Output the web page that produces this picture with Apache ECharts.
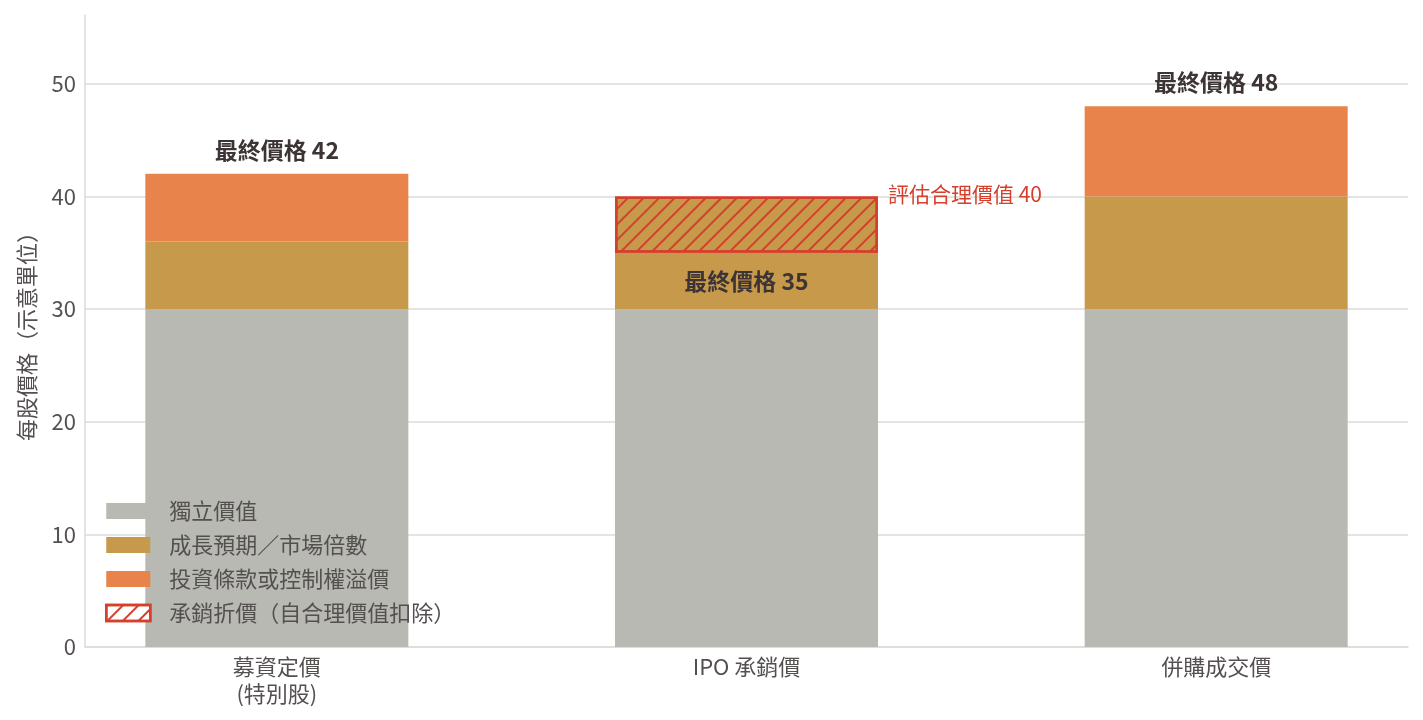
<!DOCTYPE html>
<html><head><meta charset="utf-8">
<script src="https://cdn.jsdelivr.net/npm/echarts@6/dist/echarts.min.js"></script>
<style>html,body{margin:0;padding:0;background:#fff}#c{width:1423px;height:720px}</style>
</head><body><div id="c"></div>
<script>
const categories = ['募資定價\n(特別股)', 'IPO 承銷價', '併購成交價'];
const seriesNames = ['獨立價值', '成長預期／市場倍數', '投資條款或控制權溢價', '承銷折價（自合理價值扣除）'];
const standalone = [30, 30, 30];
const growth = [6, 5, 10];
const premium = [6, 0, 8];
const discount = [0, 5, 0];
const yTicks = [0, 10, 20, 30, 40, 50];

const FONT = "'Noto Sans CJK TC', 'Noto Sans', sans-serif";
const C_GRAY = '#b7b9b2', C_TAN = '#c7994b', C_ORANGE = '#e8844b', C_RED = '#d4402c';
const TXT = '#555050', DARK = '#3d3535', GRIDC = '#dedbd6';
const FS = 22;
const finals = standalone.map((v, i) => v + growth[i] + premium[i]);
const fair = finals.map((v, i) => v + discount[i]);
const decal = {symbol: 'rect', symbolSize: 1, dashArrayX: [1, 0], dashArrayY: [2, 9], rotation: -Math.PI / 4, color: C_RED};
const boldLabel = {show: true, fontFamily: FONT, fontSize: 23, fontWeight: 'bold', color: DARK};
const YMAX = 56.1;

const chart = echarts.init(document.getElementById('c'));
chart.setOption({
  animation: false,
  textStyle: {fontFamily: FONT},
  grid: [
    {left: 85, right: 15, top: 15, bottom: 73},
    {left: 42, width: 1409, top: 15, bottom: 73, outerBoundsMode: 'none', containLabel: false}
  ],
  legend: {
    orient: 'vertical', left: 105, top: 500, padding: 0, itemWidth: 44, itemHeight: 16, itemGap: 12,
    icon: 'rect',
    textStyle: {fontFamily: FONT, fontSize: FS, color: TXT, padding: [0, 0, 0, 14], lineHeight: 22},
    data: [
      {name: seriesNames[0]}, {name: seriesNames[1]}, {name: seriesNames[2]},
      {name: seriesNames[3], itemStyle: {color: '#fff', borderColor: C_RED, borderWidth: 2.5, decal: decal}}
    ]
  },
  xAxis: [
    {type: 'category', gridIndex: 0, data: ['', '', ''],
      axisLine: {show: true, lineStyle: {color: GRIDC, width: 1.5}},
      axisTick: {show: false}, axisLabel: {show: false}, splitLine: {show: false}},
    {type: 'category', gridIndex: 1, data: categories,
      axisLine: {show: false}, axisTick: {show: false}, splitLine: {show: false},
      axisLabel: {fontSize: FS, color: TXT, margin: 6, lineHeight: 27, fontFamily: FONT, interval: 0}}
  ],
  yAxis: [
    {type: 'value', gridIndex: 0, min: 0, max: YMAX, interval: 10,
      name: '每股價格（示意單位）', nameLocation: 'middle', nameGap: 47,
      nameTextStyle: {fontSize: FS, color: TXT, fontFamily: FONT},
      axisLine: {show: true, onZero: false, lineStyle: {color: GRIDC, width: 1.5}},
      axisTick: {show: false},
      axisLabel: {fontSize: FS, color: TXT, margin: 9, showMaxLabel: false, fontFamily: FONT,
        formatter: v => yTicks.includes(v) ? String(v) : ''},
      splitLine: {showMaxLine: false, lineStyle: {color: GRIDC, width: 1.5}}},
    {type: 'value', gridIndex: 1, min: 0, max: YMAX, show: false, splitLine: {show: false}}
  ],
  series: [
    {name: seriesNames[0], type: 'bar', stack: 's', xAxisIndex: 1, yAxisIndex: 1, barWidth: 263,
      itemStyle: {color: C_GRAY}, data: standalone},
    {name: seriesNames[1], type: 'bar', stack: 's', xAxisIndex: 1, yAxisIndex: 1, barWidth: 263,
      itemStyle: {color: C_TAN},
      data: growth.map((v, i) => ({value: v,
        label: premium[i] === 0 ? Object.assign({}, boldLabel, {position: 'inside', formatter: '最終價格 ' + finals[i]}) : {show: false}}))},
    {name: seriesNames[2], type: 'bar', stack: 's', xAxisIndex: 1, yAxisIndex: 1, barWidth: 263,
      itemStyle: {color: C_ORANGE},
      data: premium.map((v, i) => v > 0 ? {value: v,
        label: Object.assign({}, boldLabel, {position: 'top', distance: 12, formatter: '最終價格 ' + finals[i]})} : '-')},
    {name: seriesNames[3], type: 'bar', stack: 's', xAxisIndex: 1, yAxisIndex: 1, barWidth: 263,
      itemStyle: {color: C_TAN, borderColor: C_RED, borderWidth: 2.5, decal: decal},
      data: discount.map((v, i) => v > 0 ? {value: v,
        label: {show: true, position: ['100%', '0%'], offset: [10, -2], align: 'left', verticalAlign: 'middle',
          fontFamily: FONT, fontSize: 21, color: C_RED, formatter: '評估合理價值 ' + fair[i]}} : '-')}
  ]
});
</script></body></html>
